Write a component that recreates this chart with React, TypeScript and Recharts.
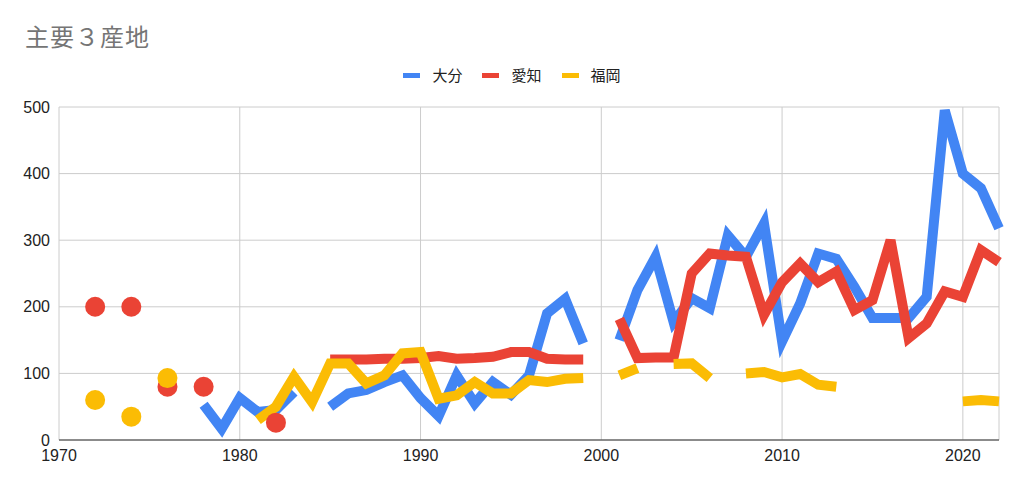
import { LineChart, Line, XAxis, YAxis, CartesianGrid } from "recharts";

// years 1970 - 2022
const years: number[] = Array.from({ length: 53 }, (_, i) => 1970 + i);

const oita: (number | null)[] = [
  null, null, null, null, null, null, null, null,
  53, 17, 63, 42, 45, 72, null,
  50, 70, 75, 87, 97,
  63, 36, 97, 55, 87, 68, 97, 190, 212, 145,
  null, 150, 225, 275, 177, 213, 198, 307, 275, 325,
  148, 205, 280, 272, 230, 183, 183, 183, 215, 495,
  400, 378, 318,
];

const aichi: (number | null)[] = [
  null, null, 200, null, 200, null, 80, null, 80, null,
  null, null, 26, null, null, 121, 121, 121, 122, 122,
  123, 126, 122, 123, 125, 132, 132, 122, 121, 121,
  null, 182, 123, 124, 124, 250, 280, 277, 275, 188,
  237, 265, 237, 253, 195, 210, 300, 153, 175, 223,
  215, 285, 267,
];

const fukuoka: (number | null)[] = [
  null, null, 60, null, 35, null, 93, null, null, null,
  null, 30, 50, 95, 57, 115, 115, 85, 97, 130,
  132, 62, 67, 87, 70, 70, 90, 87, 92, 93,
  null, 97, 108, null, 114, 115, 93, null, 100, 102,
  94, 99, 83, 80, null, null, null, null, null, null,
  58, 60, 58,
];

const xTicks = [1970, 1980, 1990, 2000, 2010, 2020];
const yTicks = [0, 100, 200, 300, 400, 500];

const seriesList = [
  { key: "oita", name: "大分", color: "#4285F4", values: oita },
  { key: "aichi", name: "愛知", color: "#EA4335", values: aichi },
  { key: "fukuoka", name: "福岡", color: "#FBBC04", values: fukuoka },
];

const data = years.map((year, i) => ({
  year,
  oita: oita[i],
  aichi: aichi[i],
  fukuoka: fukuoka[i],
}));

const latin = '"Liberation Sans", Arial, "Noto Sans CJK JP", sans-serif';
const cjk = '"Noto Sans CJK JP", "Liberation Sans", sans-serif';

// only draw a dot where the point has no neighbour to connect to
const isolatedDot = (values: (number | null)[], color: string) => (props: any) => {
  const { cx, cy, index } = props;
  const v = values[index];
  const prev = index > 0 ? values[index - 1] : null;
  const next = index < values.length - 1 ? values[index + 1] : null;
  if (v == null || cx == null || cy == null || prev != null || next != null) {
    return <g key={`d-${index}`} />;
  }
  return <circle key={`d-${index}`} cx={cx} cy={cy} r={10} fill={color} />;
};

export default function App() {
  return (
    <div
      style={{
        position: "absolute",
        left: 0,
        top: 0,
        width: 1024,
        height: 489,
        background: "#fff",
        fontFamily: latin,
      }}>
      <div
        style={{
          position: "absolute",
          left: 25,
          top: 24,
          fontFamily: cjk,
          fontSize: 24,
          lineHeight: "24px",
          color: "#757575",
          letterSpacing: 1,
        }}>
        主要３産地
      </div>
      <div
        style={{
          position: "absolute",
          top: 65,
          left: 0,
          width: 1024,
          display: "flex",
          justifyContent: "center",
          fontFamily: cjk,
          fontSize: 15,
          lineHeight: "20px",
          color: "#222",
        }}>
        {seriesList.map((s) => (
          <div
            key={s.key}
            style={{ display: "flex", alignItems: "center", margin: "0 10px" }}>
            <span
              style={{
                display: "inline-block",
                width: 17,
                height: 5,
                background: s.color,
                marginRight: 12,
              }}
            />
            <span>{s.name}</span>
          </div>
        ))}
      </div>
      <LineChart
        width={1024}
        height={489}
        data={data}
        margin={{ top: 107, right: 25, bottom: 19, left: 9 }}>
        <CartesianGrid stroke="#cccccc" ticks={xTicks} />
        <XAxis
          dataKey="year"
          type="number"
          domain={[1970, 2022]}
          ticks={xTicks}
          height={30}
          tickLine={false}
          axisLine={{ stroke: "#333" }}
          tickMargin={4}
          tick={{ fill: "#222", fontSize: 16, fontFamily: latin }}
        />
        <YAxis
          domain={[0, 500]}
          ticks={yTicks}
          width={50}
          tickLine={false}
          axisLine={false}
          tickMargin={3}
          tick={{ fill: "#222", fontSize: 16, fontFamily: latin }}
        />
        {seriesList.map((s) => (
          <Line
            key={s.key}
            dataKey={s.key}
            name={s.name}
            stroke={s.color}
            strokeWidth={10}
            connectNulls={false}
            dot={isolatedDot(s.values, s.color)}
            activeDot={false}
            isAnimationActive={false}
          />
        ))}
      </LineChart>
    </div>
  );
}
